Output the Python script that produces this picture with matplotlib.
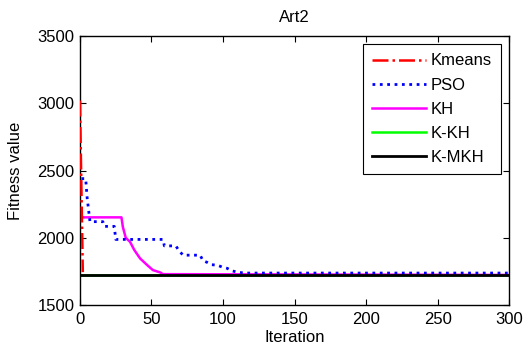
import numpy as np
import matplotlib.pyplot as plt

plt.rcParams['font.family'] = ['Liberation Sans', 'DejaVu Sans']

# Kmeans
km_x = [0, 2]
km_y = [3020, 1745]

# PSO (step-like curve)
pso_x = [1, 4, 5, 7, 16, 17, 24, 25, 58, 59, 67, 69, 72, 84, 86, 89, 92, 96, 100, 103, 106, 110, 115, 300]
pso_y = [2440, 2440, 2300, 2120, 2120, 2085, 2085, 1988, 1988, 1940, 1940, 1908, 1871, 1871, 1830, 1817, 1800, 1797, 1780, 1773, 1755, 1745, 1738, 1738]

# KH
kh_x = [0, 29, 30, 32, 33, 35, 38, 42, 47, 51, 56, 58, 300]
kh_y = [2152, 2152, 2080, 2000, 1990, 1970, 1909, 1847, 1797, 1760, 1743, 1730, 1724]

# K-KH and K-MKH
kkh_x = [0, 300]
kkh_y = [1720, 1720]
kmkh_x = [0, 300]
kmkh_y = [1724, 1724]

fig = plt.figure(figsize=(5.26, 3.56), dpi=100)
ax = fig.add_axes([0.152, 0.143, 0.816, 0.756])

ax.plot(kkh_x, kkh_y, color='#00ff00', lw=1.8, label='K-KH', zorder=2)
ax.plot(km_x, km_y, color='red', ls='-.', lw=1.8, label='Kmeans', zorder=3)
ax.plot(pso_x, pso_y, color='blue', ls=':', lw=2, label='PSO', zorder=3)
ax.plot(kh_x, kh_y, color='magenta', lw=1.8, label='KH', zorder=2)
ax.plot(kmkh_x, kmkh_y, color='black', lw=2, label='K-MKH', zorder=4)

ax.set_xlim(0, 300)
ax.set_ylim(1500, 3500)
ax.set_xticks(np.arange(0, 301, 50))
ax.set_yticks(np.arange(1500, 3501, 500))
ax.tick_params(direction='in', top=True, right=True, labelsize=12, length=4)
ax.tick_params(axis='x', pad=5)
ax.tick_params(axis='y', pad=4)
for s in ax.spines.values():
    s.set_linewidth(1)

ax.set_title('Art2', fontsize=12, pad=10)
ax.set_xlabel('Iteration', fontsize=12, labelpad=2)
ax.set_ylabel('Fitness value', fontsize=12, labelpad=10)

h, l = ax.get_legend_handles_labels()
order = ['Kmeans', 'PSO', 'KH', 'K-KH', 'K-MKH']
hd = dict(zip(l, h))
leg = ax.legend([hd[k] for k in order], order, loc='upper right', fontsize=12,
                fancybox=False, edgecolor='black', framealpha=1,
                handlelength=3.2, labelspacing=0.55, borderaxespad=0.5,
                handletextpad=0.3, borderpad=0.55)
leg.get_frame().set_linewidth(0.8)

fig.savefig('out.png', dpi=100)
